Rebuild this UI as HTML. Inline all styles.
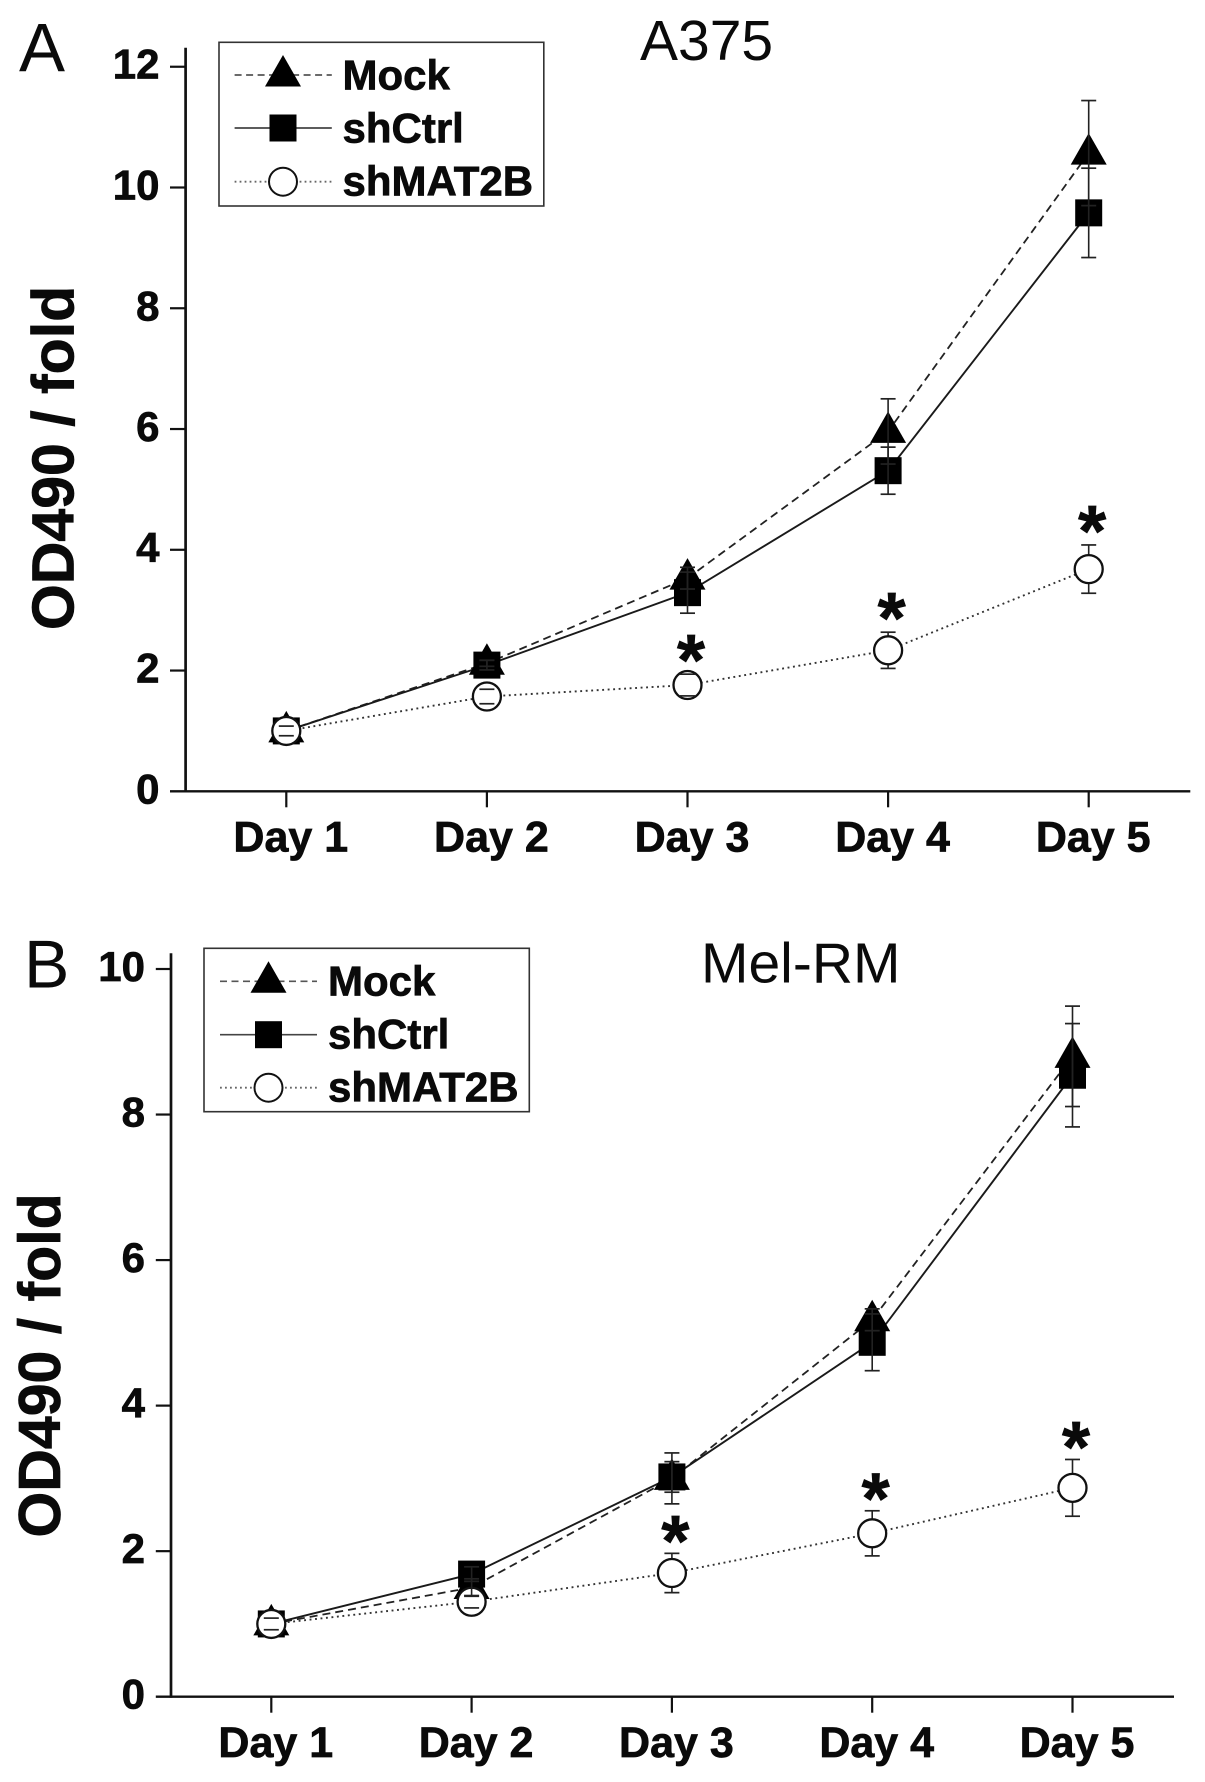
<!DOCTYPE html>
<html lang="en">
<head>
<meta charset="utf-8">
<title>OD490 fold growth curves: A375 and Mel-RM</title>
<style>
  html, body { margin: 0; padding: 0; background: #fff; }
  body { width: 1205px; height: 1782px; overflow: hidden; }
  svg { display: block; }
  text { font-family: "Liberation Sans", Arial, sans-serif; fill: #0a0a0a; }
  .bold { font-weight: bold; stroke: #0a0a0a; stroke-width: 0.7px; }
</style>
</head>
<body>
<svg id="figure" xmlns="http://www.w3.org/2000/svg" width="1205" height="1782" viewBox="0 0 1205 1782">
  <rect x="0" y="0" width="1205" height="1782" fill="#fff"/>

  <g id="panel-a">
    <text x="19" y="71.7" font-size="69">A</text>
    <text x="640" y="60" font-size="57">A375</text>
    <text class="bold" font-size="59" text-anchor="middle" transform="translate(73.5 458) rotate(-90)">OD490 / fold</text>
    <g>
      <rect x="219" y="42.3" width="324.8" height="163.7" fill="#fff" stroke="#333" stroke-width="1.6"/>
      <g>
        <line x1="234.6" x2="331.8" y1="75" y2="75" stroke="#555" stroke-width="1.7" stroke-dasharray="7 4.5"/>
        <polygon points="283,55 301,86.5 265,86.5" fill="#000"/>
        <text class="bold" x="342.5" y="89.3" font-size="42">Mock</text>
      </g>
      <g>
        <line x1="234.6" x2="331.8" y1="128" y2="128" stroke="#444" stroke-width="1.7"/>
        <rect x="269.5" y="114.5" width="27" height="27" fill="#000"/>
        <text class="bold" x="342.5" y="142.7" font-size="42">shCtrl</text>
      </g>
      <g>
        <line x1="234.6" x2="331.8" y1="181.7" y2="181.7" stroke="#666" stroke-width="1.8" stroke-dasharray="1.8 3.2"/>
        <circle cx="283" cy="181.7" r="14" fill="#fff" stroke="#111" stroke-width="2"/>
        <text class="bold" x="342.5" y="195.3" font-size="42">shMAT2B</text>
      </g>
    </g>
  </g>

  <g id="panel-b">
    <text x="24" y="987.7" font-size="68">B</text>
    <text x="701" y="982.7" font-size="57">Mel-RM</text>
    <text class="bold" font-size="59" text-anchor="middle" transform="translate(60 1365.5) rotate(-90)">OD490 / fold</text>
    <g>
      <rect x="204" y="948.3" width="325.3" height="163.4" fill="#fff" stroke="#333" stroke-width="1.6"/>
      <g>
        <line x1="220" x2="317" y1="981.3" y2="981.3" stroke="#555" stroke-width="1.7" stroke-dasharray="7 4.5"/>
        <polygon points="268.5,961.3 286.5,992.8 250.5,992.8" fill="#000"/>
        <text class="bold" x="328" y="995.7" font-size="42">Mock</text>
      </g>
      <g>
        <line x1="220" x2="317" y1="1034.7" y2="1034.7" stroke="#444" stroke-width="1.7"/>
        <rect x="255" y="1021.2" width="27" height="27" fill="#000"/>
        <text class="bold" x="328" y="1048.7" font-size="42">shCtrl</text>
      </g>
      <g>
        <line x1="220" x2="317" y1="1087.7" y2="1087.7" stroke="#666" stroke-width="1.8" stroke-dasharray="1.8 3.2"/>
        <circle cx="268.5" cy="1087.7" r="14" fill="#fff" stroke="#111" stroke-width="2"/>
        <text class="bold" x="328" y="1101.7" font-size="42">shMAT2B</text>
      </g>
    </g>
  </g>
</svg>

<script>
// Shared categories
const days = ['Day 1', 'Day 2', 'Day 3', 'Day 4', 'Day 5'];

// Panel A: A375
const a375Ticks = [0, 2, 4, 6, 8, 10, 12];
const a375Mock = [1.0, 2.12, 3.53, 5.96, 10.57];
const a375MockErr = [0, 0.05, 0.18, 0.54, 0.87];
const a375Ctrl = [1.0, 2.09, 3.29, 5.31, 9.58];
const a375CtrlErr = [0, 0.08, 0.34, 0.39, 0.74];
const a375Mat = [1.0, 1.57, 1.76, 2.335, 3.68];
const a375MatErr = [0.08, 0.12, 0.18, 0.3, 0.4];
const a375Starred = [2, 3, 4];

// Panel B: Mel-RM
const melTicks = [0, 2, 4, 6, 8, 10];
const melMock = [1.0, 1.5, 3.0, 5.18, 8.8];
const melMockErr = [0, 0.12, 0.35, 0.15, 0.69];
const melCtrl = [1.0, 1.685, 3.02, 4.87, 8.54];
const melCtrlErr = [0, 0.1, 0.21, 0.39, 0.71];
const melMat = [1.0, 1.305, 1.7, 2.245, 2.87];
const melMatErr = [0.08, 0.085, 0.27, 0.31, 0.39];
const melStarred = [2, 3, 4];

const SVG_NS = 'http://www.w3.org/2000/svg';

function make(parent, tag, attrs, text) {
  const el = document.createElementNS(SVG_NS, tag);
  for (const k in attrs) el.setAttribute(k, attrs[k]);
  if (text !== undefined) el.textContent = text;
  parent.appendChild(el);
  return el;
}

function drawPanel(host, p, data) {
  const xScale = i => p.x0 + i * p.xStep;
  const yScale = v => p.y0 - v * p.yUnit;
  const ink = '#111';

  // Axes
  const axes = make(host, 'g', {});
  
  

  const yAxis = make(axes, 'line', { x1: p.axisX, x2: p.axisX, y1: p.axisTop, y2: p.y0 + 1, stroke: ink, 'stroke-width': 2.7 });
  
  

  const xAxis = make(axes, 'line', { x1: p.tickLeft, x2: p.axisRight, y1: p.y0, y2: p.y0, stroke: ink, 'stroke-width': 2.4 });
  
  

  data.ticks.forEach(v => {
    if (v !== 0) {
      const t = make(axes, 'line', { x1: p.tickLeft, x2: p.axisX, y1: yScale(v), y2: yScale(v), stroke: ink, 'stroke-width': 2.2 });
      
      
    }
    const label = make(axes, 'text', { x: p.labelRight, y: yScale(v) + 12, 'font-size': 42, class: 'bold', 'text-anchor': 'end' }, String(v));
    
    
  });

  days.forEach((d, i) => {
    const t = make(axes, 'line', { x1: xScale(i), x2: xScale(i), y1: p.y0, y2: p.y0 + 16, stroke: ink, 'stroke-width': 2.2 });
    
    
    const label = make(axes, 'text', { x: xScale(i) + 4.5, y: p.y0 + 60.2, 'font-size': 43, class: 'bold', 'text-anchor': 'middle' }, d);
    
    
  });

  // Series lines
  const linePoints = vals => vals.map((v, i) => xScale(i) + ',' + yScale(v)).join(' ');

  const mockLine = make(host, 'polyline', { points: linePoints(data.mock), fill: 'none', stroke: '#222', 'stroke-width': 1.8, 'stroke-dasharray': '8 5' });
  
  

  const ctrlLine = make(host, 'polyline', { points: linePoints(data.ctrl), fill: 'none', stroke: '#1a1a1a', 'stroke-width': 1.9 });
  
  

  const matLine = make(host, 'polyline', { points: linePoints(data.mat), fill: 'none', stroke: '#333', 'stroke-width': 1.9, 'stroke-dasharray': '1.9 3.6' });
  
  

  // Mock triangles
  data.mock.forEach((v, i) => {
    const x = xScale(i), y = yScale(v);
    const m = make(host, 'polygon', { points: x + ',' + (y - 20) + ' ' + (x + 18) + ',' + (y + 11.5) + ' ' + (x - 18) + ',' + (y + 11.5), fill: '#000' });
    
    
  });

  // shCtrl squares
  data.ctrl.forEach((v, i) => {
    const m = make(host, 'rect', { x: xScale(i) - 13.5, y: yScale(v) - 13.5, width: 27, height: 27, fill: '#000' });
    
    
  });

  // Stem and cap helpers
  const errColor = '#222';
  function stem(i, v, e, name) {
    const s = make(host, 'line', { x1: xScale(i), x2: xScale(i), y1: yScale(v + e), y2: yScale(v - e), stroke: errColor, 'stroke-width': 1.6 });
    
    
  }
  function caps(i, v, e, name) {
    [v + e, v - e].forEach((c, k) => {
      const cap = make(host, 'line', { x1: xScale(i) - 7.5, x2: xScale(i) + 7.5, y1: yScale(c), y2: yScale(c), stroke: errColor, 'stroke-width': 1.7 });
      
      
    });
  }

  // shMAT2B stems, circles and caps
  data.mat.forEach((v, i) => stem(i, v, data.matErr[i], p.id + '-shmat2b-error-day-' + (i + 1)));
  data.mat.forEach((v, i) => {
    const m = make(host, 'circle', { cx: xScale(i), cy: yScale(v), r: 14, fill: '#fff', stroke: ink, 'stroke-width': 2.3 });
    
    
  });
  data.mat.forEach((v, i) => caps(i, v, data.matErr[i], p.id + '-shmat2b-error-day-' + (i + 1)));

  // Mock and shCtrl error bars
  data.mock.forEach((v, i) => {
    if (data.mockErr[i] > 0) {
      stem(i, v, data.mockErr[i], p.id + '-mock-error-day-' + (i + 1));
      caps(i, v, data.mockErr[i], p.id + '-mock-error-day-' + (i + 1));
    }
  });
  data.ctrl.forEach((v, i) => {
    if (data.ctrlErr[i] > 0) {
      stem(i, v, data.ctrlErr[i], p.id + '-shctrl-error-day-' + (i + 1));
      caps(i, v, data.ctrlErr[i], p.id + '-shctrl-error-day-' + (i + 1));
    }
  });

  // Significance asterisks sit a fixed gap above the shMAT2B upper error cap
  data.starred.forEach(i => {
    const top = yScale(data.mat[i] + data.matErr[i]);
    const star = make(host, 'text', { x: xScale(i) + 3.5, y: top - p.starGap + 24, 'font-size': 72, class: 'bold', 'text-anchor': 'middle' }, '*');
    
    
  });
}

drawPanel(document.getElementById('panel-a'),
  { id: 'panel-a', x0: 286.3, xStep: 200.6, y0: 791.3, yUnit: 60.38, axisX: 185.6, axisTop: 47.7, tickLeft: 170, axisRight: 1190.3, labelRight: 159.5, starGap: 13 },
  { ticks: a375Ticks, mock: a375Mock, mockErr: a375MockErr, ctrl: a375Ctrl, ctrlErr: a375CtrlErr, mat: a375Mat, matErr: a375MatErr, starred: a375Starred });

drawPanel(document.getElementById('panel-b'),
  { id: 'panel-b', x0: 271.3, xStep: 200.3, y0: 1696.7, yUnit: 72.77, axisX: 171, axisTop: 953.3, tickLeft: 155.8, axisRight: 1174, labelRight: 145, starGap: 11.5 },
  { ticks: melTicks, mock: melMock, mockErr: melMockErr, ctrl: melCtrl, ctrlErr: melCtrlErr, mat: melMat, matErr: melMatErr, starred: melStarred });
</script>
</body>
</html>
